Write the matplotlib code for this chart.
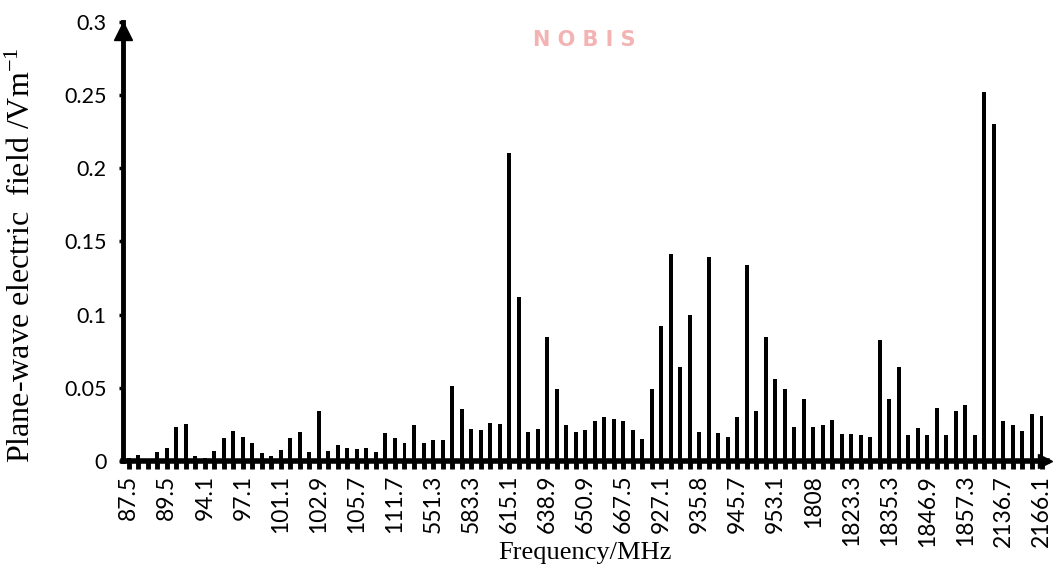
#!/usr/bin/env python3
# -*- coding: utf-8 -*-

"""Plane-wave electric field against frequency (bar chart)."""

import matplotlib
matplotlib.use("Agg")
import matplotlib.pyplot as plt


# Data.
field = [0.002, 0.004, 0.001, 0.006, 0.009, 0.0235, 0.025, 0.0035, 0.002, 0.007,
         0.0155, 0.0205, 0.0165, 0.012, 0.0055, 0.0035, 0.0075, 0.0155, 0.0195, 0.006,
         0.034, 0.007, 0.011, 0.009, 0.008, 0.009, 0.006, 0.019, 0.016, 0.0125,
         0.0245, 0.0125, 0.014, 0.0145, 0.0515, 0.0355, 0.022, 0.021, 0.026, 0.025,
         0.2105, 0.112, 0.020, 0.022, 0.085, 0.049, 0.0245, 0.0195, 0.021, 0.027,
         0.030, 0.029, 0.0275, 0.021, 0.015, 0.0495, 0.092, 0.1415, 0.064, 0.100,
         0.0195, 0.1395, 0.019, 0.0165, 0.030, 0.134, 0.034, 0.0845, 0.056, 0.049,
         0.0235, 0.0425, 0.023, 0.0245, 0.028, 0.0185, 0.0185, 0.0175, 0.0165, 0.083,
         0.0425, 0.0645, 0.0175, 0.0225, 0.018, 0.036, 0.018, 0.034, 0.038, 0.0175,
         0.252, 0.230, 0.027, 0.0245, 0.0205, 0.032, 0.031]

freq_labels = ['87.5', '89.5', '94.1', '97.1', '101.1', '102.9', '105.7', '111.7',
               '551.3', '583.3', '615.1', '638.9', '650.9', '667.5', '927.1', '935.8',
               '945.7', '953.1', '1808', '1823.3', '1835.3', '1846.9', '1857.3',
               '2136.7', '2166.1']
label_step = 4

y_ticks = [0, 0.05, 0.1, 0.15, 0.2, 0.25, 0.3]
y_labels = ['0', '0.05', '0.1', '0.15', '0.2', '0.25', '0.3']

# Plot.
plt.rcParams['mathtext.fontset'] = 'custom'
plt.rcParams['mathtext.rm'] = 'Liberation Serif'

fig = plt.figure(figsize=(10.61, 5.73), dpi=100)
ax = fig.add_axes([0.116, 0.1955, 0.871, 0.7661])

pos = list(range(len(field)))
ax.bar(pos, field, width=0.42, color='black', zorder=3)

ax.set_xlim(-0.6, 96.6)
ax.set_ylim(0, 0.3)

ax.set_xticks(pos[::label_step])
ax.set_xticklabels(freq_labels, rotation=90, family='Lato', fontsize=16.5)
ax.set_xticks(pos, minor=True)
ax.tick_params(axis='x', which='both', direction='out', length=6, width=3.5,
               color='black', pad=4)

ax.set_yticks(y_ticks)
ax.set_yticklabels(y_labels, family='Lato', fontsize=15.5)
ax.tick_params(axis='y', direction='out', length=3, width=2.5, pad=9)

for side in ['top', 'right']:
    ax.spines[side].set_visible(False)
ax.spines['left'].set_linewidth(3.5)
ax.spines['bottom'].set_linewidth(4)

# Axis arrowheads.
ax.plot(-0.6, 0.294, marker='^', markersize=13, color='black', clip_on=False,
        zorder=5)
ax.plot(96.4, 0.0, marker='>', markersize=10, color='black', clip_on=False,
        zorder=5)

ax.set_xlabel('Frequency/MHz', family='Liberation Serif', fontsize=19)
ax.xaxis.set_label_coords(0.5, -0.185)
ax.set_ylabel(r'Plane-wave electric  field /Vm$\mathregular{^{-1}}$',
              family='Liberation Serif', fontsize=23)
ax.yaxis.set_label_coords(-0.093, 0.47)

# Scan watermark.
fig.text(0.551, 0.93, 'N O B I S', color='#f3b3b3', fontsize=15,
         fontweight='bold', ha='center', va='center', family='DejaVu Sans')

fig.savefig('out.png', dpi=100)
